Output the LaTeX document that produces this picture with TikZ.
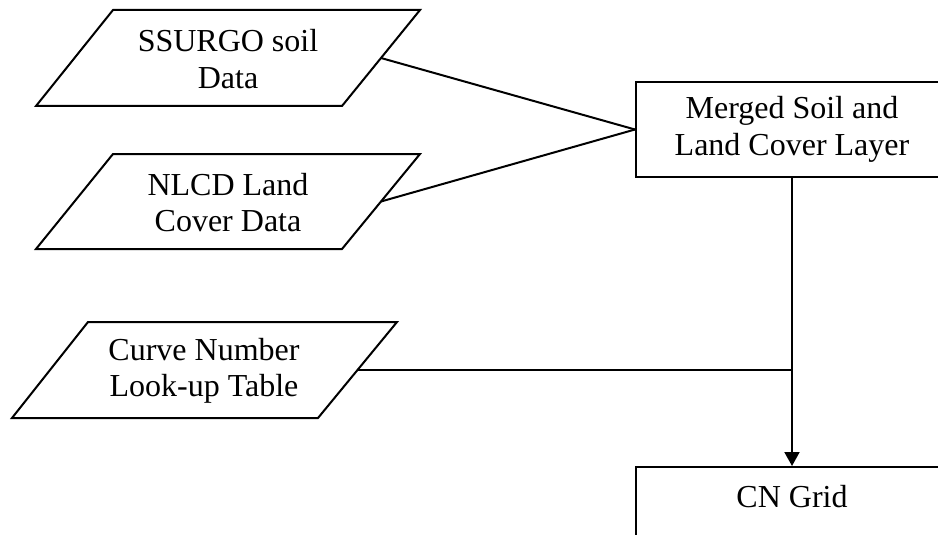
\documentclass[tikz,border=0pt]{standalone}
\usepackage{fontspec}
\setmainfont{Liberation Serif}
\usetikzlibrary{arrows.meta}
\begin{document}
\begin{tikzpicture}[x=1pt,y=-1pt,
  lbl/.style={align=center,font=\fontsize{32}{36.5}\selectfont,inner sep=0pt},
  shapeline/.style={draw=black,line width=2pt,line join=miter},
  box/.style={draw=black,line width=2pt,rectangle,align=center,
    font=\fontsize{32}{36.5}\selectfont,minimum width=312pt,minimum height=95pt,inner sep=0pt},
  link/.style={draw=black,line width=2pt}]
\useasboundingbox (0,0) rectangle (938,535);
\fill[white] (0,0) rectangle (938,535);
\clip (0,0) rectangle (938,535);
% input parallelograms
\draw[shapeline] (113,10) -- (420,10) -- (342,106) -- (36,106) -- cycle;
\node[lbl] (ssurgo) at (228,59) {SSURGO soil\\Data};
\coordinate (ssurgoR) at (381,58);
\draw[shapeline] (113,154) -- (420,154) -- (342,249) -- (36,249) -- cycle;
\node[lbl] (nlcd) at (228,202.5) {NLCD Land\\Cover Data};
\coordinate (nlcdR) at (381,201.5);
\draw[shapeline] (88,322) -- (397,322) -- (318,418) -- (12,418) -- cycle;
\node[lbl] (curve) at (204,371) {Curve Number\\Look-up Table};
\coordinate (curveR) at (357.5,370);
% process boxes
\node[box] (merged) at (792,129.5) {Merged Soil and\\Land Cover Layer};
\node[box,anchor=north] (cngrid) at (792,466) {CN Grid\\\mbox{}};
% connectors
\draw[link] (ssurgoR) -- (merged.west);
\draw[link] (nlcdR) -- (merged.west);
\coordinate (junc) at (merged.south |- curveR);
\draw[link] (curveR) -- (junc);
\draw[link,-{Triangle[length=14pt,width=15pt]}] (merged.south) -- (cngrid.north);
\end{tikzpicture}
\end{document}
